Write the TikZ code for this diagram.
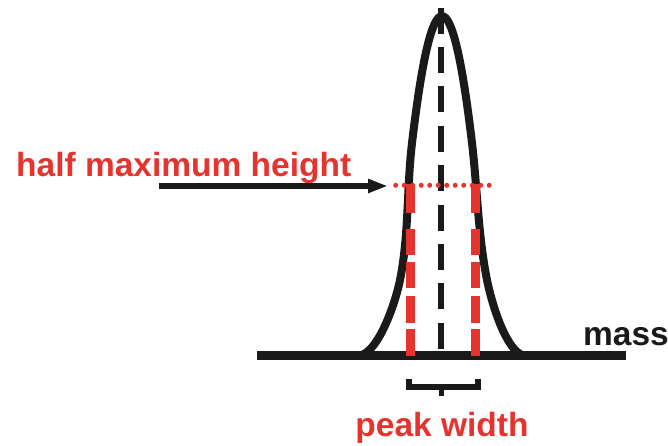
\documentclass[tikz,border=0pt]{standalone}
\usepackage{fontspec}
\setmainfont{Liberation Sans}
\definecolor{peakred}{RGB}{229, 51, 46}
\definecolor{ink}{RGB}{26, 26, 26}
\usetikzlibrary{arrows.meta}

\begin{document}
\begin{tikzpicture}[
    x=1pt, y=-1pt,
    label/.style={inner sep=0pt, font=\fontsize{33.5}{36}\selectfont\bfseries},
    curve/.style={draw=ink, line width=8pt, line join=round},
    widthline/.style={draw=peakred, line width=8.5pt, dash pattern=on 29pt off 16pt on 26pt off 7pt on 26pt off 8pt on 27pt off 6pt on 27pt},
    centreline/.style={draw=ink, line width=6pt, dash pattern=on 26pt off 13.4pt},
    arr/.style={-{Triangle[length=20pt, width=13pt]}, line width=5.5pt, color=ink}
  ]
    \useasboundingbox (0,0) rectangle (668,445);

    % axis and peak
    \draw[ink, line width=9.3pt] (257,355.5) -- (626,355.5);
    \draw[curve] (362,355) .. controls (380,348) and (395.6,302) .. (400,280)
      .. controls (409,235) and (406.7,188) .. (412,143)
      .. controls (432,-26.2) and (452,-26.2) .. (472,143)
      .. controls (477.3,188) and (478,235) .. (487,280)
      .. controls (491.4,302) and (505,348) .. (522,355);
    \draw[centreline] (441,7.6) -- (441,349);

    % width at half maximum
    \draw[widthline] (410.5,184) -- (410.5,356);
    \draw[widthline] (475.5,184) -- (475.5,356);
    \draw[peakred, line width=5pt, line cap=round, dash pattern=on 0pt off 8.5pt] (395.7,185.3) -- (490,185.3);

    % labels
    \node[label, text=peakred, anchor=base west] (halftext) at (16,176.5) {half maximum height};
    \node[label, text=ink, anchor=base west] (masstext) at (583,345.5) {mass};
    \node[label, text=peakred, anchor=base] (widthtext) at (442,436.5) {peak width};

    \coordinate (arrowtail) at (159,186);
    \coordinate (halfmax) at (388,186);
    \draw[arr] (arrowtail) -- (halfmax);

    % bracket
    \draw[ink, line width=5.5pt, line join=miter] (409,379) -- (409,387) -- (478,387) -- (478,379);
    \draw[ink, line width=5.5pt] (441.5,387) -- (441.5,396);
  \end{tikzpicture}
\end{document}
